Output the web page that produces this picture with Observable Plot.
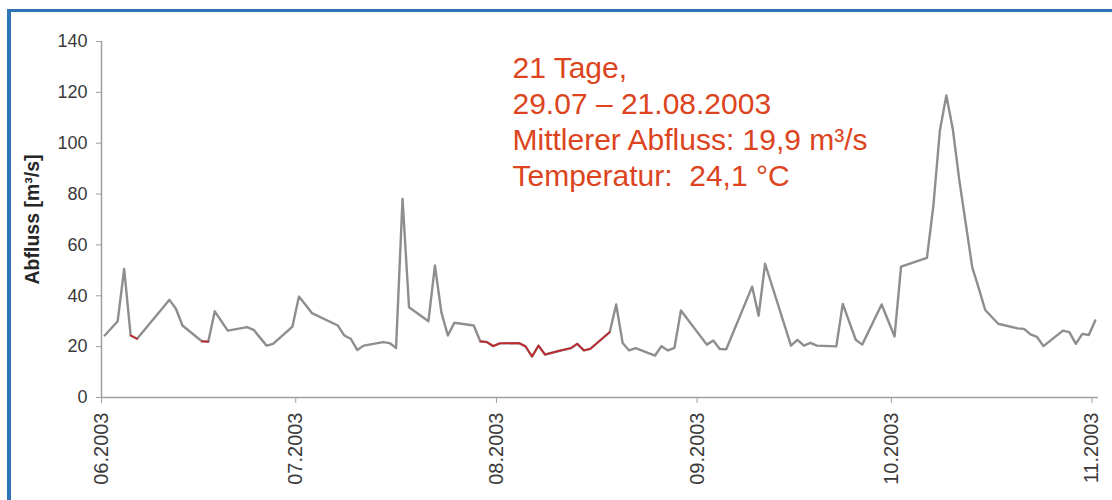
<!DOCTYPE html>
<html>
<head>
<meta charset="utf-8">
<script src="https://cdn.jsdelivr.net/npm/d3@7"></script>
<script src="https://cdn.jsdelivr.net/npm/@observablehq/plot@0.6"></script>
<style>
  html, body { margin: 0; padding: 0; background: #fff; overflow: hidden; width: 1112px; height: 500px; }
  #frame { position: absolute; left: 7px; top: 9px; width: 1200px; height: 600px;
           border-left: 4px solid #2e75b6; border-top: 3px solid #2e75b6; }
  #chart { position: absolute; left: 0; top: 0; }
</style>
</head>
<body>
<div id="frame"></div>
<div id="chart"></div>
<script>
// ---- data ----
const dates = [
  "2003-06-01","2003-06-03","2003-06-04","2003-06-05","2003-06-06","2003-06-11","2003-06-12","2003-06-13",
  "2003-06-16","2003-06-17","2003-06-18","2003-06-20","2003-06-23","2003-06-24","2003-06-26","2003-06-27",
  "2003-06-30","2003-07-01","2003-07-03","2003-07-07","2003-07-08","2003-07-09","2003-07-10","2003-07-11",
  "2003-07-14","2003-07-15","2003-07-16","2003-07-17","2003-07-18","2003-07-21","2003-07-22","2003-07-23",
  "2003-07-24","2003-07-25","2003-07-28","2003-07-29","2003-07-30","2003-07-31","2003-08-01","2003-08-04",
  "2003-08-05","2003-08-06","2003-08-07","2003-08-08","2003-08-10","2003-08-12","2003-08-13","2003-08-14",
  "2003-08-15","2003-08-18","2003-08-19","2003-08-20","2003-08-21","2003-08-22","2003-08-25","2003-08-26",
  "2003-08-27","2003-08-28","2003-08-29","2003-09-02","2003-09-03","2003-09-04","2003-09-05","2003-09-09",
  "2003-09-10","2003-09-11","2003-09-15","2003-09-16","2003-09-17","2003-09-18","2003-09-19","2003-09-22",
  "2003-09-23","2003-09-25","2003-09-26","2003-09-29","2003-10-01","2003-10-02","2003-10-06","2003-10-07",
  "2003-10-08","2003-10-09","2003-10-10","2003-10-11","2003-10-13","2003-10-14","2003-10-15","2003-10-17",
  "2003-10-20","2003-10-21","2003-10-22","2003-10-23","2003-10-24","2003-10-27","2003-10-28","2003-10-29",
  "2003-10-30","2003-10-31","2003-11-01"
];
const flow = [
  24.4, 30.0, 50.6, 24.4, 23.1, 38.4, 34.9, 28.3,
  22.1, 22.0, 33.9, 26.3, 27.7, 26.6, 20.4, 21.1,
  27.9, 39.7, 33.2, 28.3, 24.4, 23.1, 18.7, 20.4,
  21.8, 21.4, 19.5, 78.1, 35.5, 30.0, 51.9, 33.5,
  24.4, 29.4, 28.3, 22.1, 21.8, 20.2, 21.3, 21.4,
  20.1, 16.1, 20.4, 16.9, 18.2, 19.4, 21.1, 18.5,
  19.1, 25.7, 36.6, 21.4, 18.5, 19.4, 16.5, 20.2,
  18.5, 19.5, 34.2, 20.8, 22.4, 19.1, 19.0, 43.6,
  32.2, 52.6, 20.4, 22.7, 20.4, 21.5, 20.4, 20.1,
  36.8, 22.7, 20.8, 36.6, 24.0, 51.5, 54.9, 75.5,
  105.0, 118.8, 105.5, 85.5, 51.2, 43.0, 34.4, 29.0,
  27.2, 27.0, 24.8, 23.8, 20.2, 26.3, 25.7, 21.1,
  25.0, 24.6, 30.3
];
// periods highlighted in red (start, end)
const redStarts = ["2003-06-05", "2003-06-16", "2003-07-29"];
const redEnds   = ["2003-06-06", "2003-06-17", "2003-08-18"];

const monthTicks = ["2003-06-01","2003-07-01","2003-08-01","2003-09-01","2003-10-01","2003-11-01"];
const yTicks = [0, 20, 40, 60, 80, 100, 120, 140];
const xDomain = ["2003-06-01", "2003-11-02"];
const yTitle = "Abfluss [m³/s]";
const noteLines = [
  "21 Tage,",
  "29.07 – 21.08.2003",
  "Mittlerer Abfluss: 19,9 m³/s",
  "Temperatur:\u00a0 24,1 °C"
];

// ---- build tables ----
const day = s => new Date(s + "T00:00:00Z");
const data = dates.map((d, i) => ({date: new Date(d + "T12:00:00Z"), key: d, value: flow[i]}));
const red = [];
redStarts.forEach((s, p) => {
  data.forEach(d => { if (d.key >= s && d.key <= redEnds[p]) red.push({...d, period: p}); });
});

const chart = Plot.plot({
  width: 1112,
  height: 500,
  marginLeft: 101,
  marginRight: 14,
  marginTop: 41,
  marginBottom: 103,
  style: {fontFamily: "'Liberation Sans', Arial, sans-serif", background: "transparent", overflow: "visible"},
  x: {type: "utc", domain: xDomain.map(day)},
  y: {domain: [0, 140]},
  marks: [
    Plot.axisY({ticks: yTicks, tickSize: 5, tickPadding: 9, fontSize: 18, color: "#3a3a3a", stroke: "#a0a0a0", label: null}),
    Plot.axisX({ticks: monthTicks.map(day), tickFormat: d3.utcFormat("%m.%Y"), tickRotate: -90, tickSize: 6, tickPadding: 9,
                fontSize: 20, color: "#3a3a3a", stroke: "#a0a0a0", label: null}),
    Plot.ruleY([0], {stroke: "#a0a0a0", strokeWidth: 1.5}),
    Plot.ruleX([day(xDomain[0])], {stroke: "#a0a0a0", strokeWidth: 1.5}),
    Plot.line(data, {x: "date", y: "value", stroke: "#8e8e8e", strokeWidth: 2.4}),
    Plot.line(red, {x: "date", y: "value", z: "period", stroke: "#c0282e", strokeWidth: 1.8}),
    Plot.text([yTitle], {frameAnchor: "left", dx: -69, rotate: -90, textAnchor: "middle", fontSize: 19.5, fontWeight: "bold", fill: "#262626"}),
    Plot.text([noteLines.join("\n")], {frameAnchor: "top-left", dx: 411, dy: 10.5, lineAnchor: "top", textAnchor: "start",
               fontSize: 30, lineHeight: 1.2, fill: "#dc4420"})
  ]
});
document.getElementById("chart").appendChild(chart);
</script>
</body>
</html>
